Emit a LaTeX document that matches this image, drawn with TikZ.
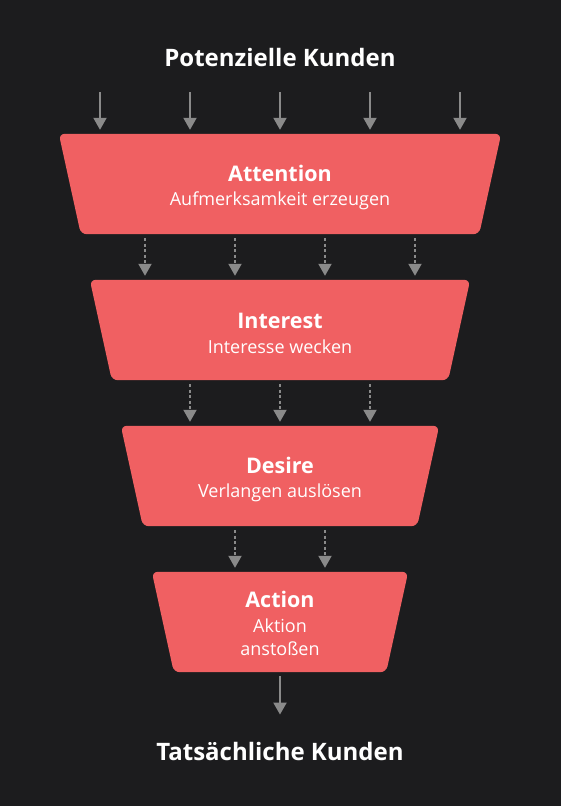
\documentclass[tikz,border=0pt]{standalone}
\usepackage{fontspec}
\setmainfont{Open Sans}
\usetikzlibrary{arrows.meta,backgrounds}

\definecolor{bgdark}{HTML}{1C1C1E}
\definecolor{coral}{HTML}{F06062}
\definecolor{arrowgray}{HTML}{8A8A8A}

\newcommand{\stagetitle}[1]{{\bfseries\fontsize{21.5}{25}\selectfont #1}}

\tikzset{
  stage/.style={minimum width=#1, minimum height=100pt, inner sep=0pt},
  stagetext/.style={inner sep=0pt, align=center, text=white, font=\fontsize{18}{23}\selectfont},
  heading/.style={inner sep=0pt, text=white, font=\bfseries\fontsize{24}{28}\selectfont},
  flow/.style={draw=arrowgray, line width=2pt, -{Triangle[width=13pt,length=12pt]}},
  leak/.style={flow, dash pattern=on 3pt off 2.5pt}
}

\begin{document}
\begin{tikzpicture}[x=1pt,y=-1pt]
\useasboundingbox (0,0) rectangle (560,806);

\node[heading] (potential) at (280,57) {Potenzielle Kunden};

\node[stage=442pt] (attention) at (280,184) {};
\node[stage=380pt] (interest) at (280,330) {};
\node[stage=318pt] (desire) at (280,476) {};
\node[stage=256pt] (action) at (280,622) {};

\node[stagetext] (attention-text) at ([yshift=-3.5pt]attention.center) {\stagetitle{Attention}\\[1.5pt]Aufmerksamkeit erzeugen};
\node[stagetext] (interest-text) at ([yshift=-3.5pt]interest.center) {\stagetitle{Interest}\\[1.5pt]Interesse wecken};
\node[stagetext] (desire-text) at ([yshift=-3.5pt]desire.center) {\stagetitle{Desire}\\[1.5pt]Verlangen auslösen};
\node[stagetext] (action-text) at ([yshift=-1.5pt]action.center) {\stagetitle{Action}\\[1.5pt]Aktion\\anstoßen};

\node[heading] (actual) at (280,751) {Tatsächliche Kunden};

\begin{scope}[on background layer]
  \fill[bgdark] (-5,-5) rectangle (565,811);
  \foreach \s in {attention,interest,desire,action}
    \fill[coral, rounded corners=6pt] (\s.north west) -- (\s.north east)
      -- ([xshift=-22pt]\s.south east) -- ([xshift=22pt]\s.south west) -- cycle;
\end{scope}

% incoming customers
\foreach \x in {100,190,280,370,460} {
  \coordinate (src) at (\x,92);
  \draw[flow, shorten >=4pt] (src) -- (attention.north -| src);
}

% between the stages
\foreach \x in {145,235,325,415}
  \draw[leak, shorten <=4pt, shorten >=4pt] (attention.south -| \x,0) -- (interest.north -| \x,0);
\foreach \x in {190,280,370}
  \draw[leak, shorten <=4pt, shorten >=4pt] (interest.south -| \x,0) -- (desire.north -| \x,0);
\foreach \x in {235,325}
  \draw[leak, shorten <=4pt, shorten >=4pt] (desire.south -| \x,0) -- (action.north -| \x,0);

% out of the funnel
\draw[flow, shorten <=4pt, shorten >=27pt] (action.south) -- (actual.north);
\end{tikzpicture}
\end{document}
